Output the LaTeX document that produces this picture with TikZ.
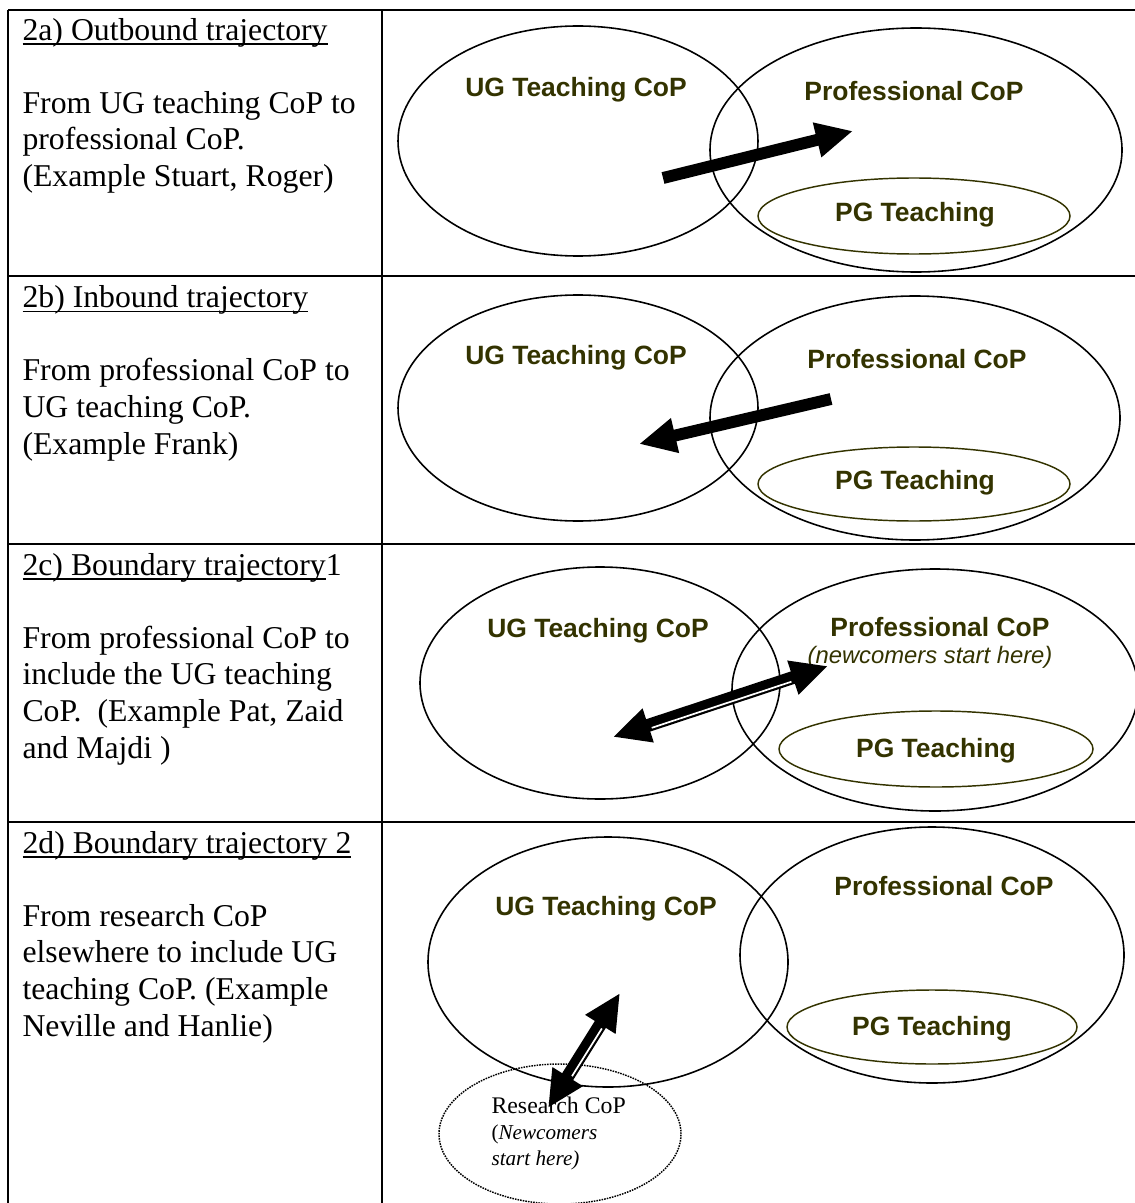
\documentclass[tikz,border=0pt]{standalone}
\usepackage{fontspec}
\setmainfont{Liberation Serif}
\newfontfamily\arialfont{Liberation Sans}
\usetikzlibrary{arrows.meta,shapes.geometric,calc}
\definecolor{copolive}{RGB}{51,51,0}
\newcommand{\unitpx}{0.378pt}
% Word-like underline that runs through the descenders
\newsavebox{\ulbox}
\newcommand{\wul}[1]{\sbox{\ulbox}{#1}\rlap{\vrule height -1.2pt depth 1.8pt width \wd\ulbox}\usebox{\ulbox}}

\begin{document}
\begin{tikzpicture}[
        x=0.378pt, y=-0.378pt,
        >={Triangle[length=14pt,width=12.5pt]},
        grid/.style={line width=0.75pt},
        cop/.style={ellipse,draw,line width=0.6pt,inner sep=0pt},
        pgring/.style={cop,draw=copolive,line width=0.55pt},
        resring/.style={cop,line width=0.55pt,dash pattern=on 0.6pt off 0.4pt},
        dims/.style args={#1x#2}{minimum width=#1*\unitpx,minimum height=#2*\unitpx},
        copname/.style={anchor=base,inner sep=0pt,text=copolive,
            font=\arialfont\bfseries\fontsize{10}{12}\selectfont},
        rowtext/.style={anchor=base west,align=left,inner sep=0pt,
            font=\fontsize{12}{13.83}\selectfont},
        fatarrow/.style={line width=4.5pt},
        twoway/.style={line width=4.9pt,<->},
        stripe/.style={draw=white,line width=0.65pt},
    ]
    \useasboundingbox (0,0) rectangle (1135,1203);

    % table rules
    \foreach \y in {10,276,544,822}
        \draw[grid] (8,\y) -- (1140,\y);
    \foreach \x in {8,382}
        \draw[grid] (\x,10) -- (\x,1210);

    % left column (anchored at the baseline of the last line)
    \node[rowtext] (txtA) at (22,186.5) {\wul{2a) Outbound trajectory}\\[\baselineskip]
        From UG teaching CoP to\\ professional CoP.\\ (Example Stuart, Roger)};
    \node[rowtext] (txtB) at (22,454) {\wul{2b) Inbound trajectory}\\[\baselineskip]
        From professional CoP to\\ UG teaching CoP.\\ (Example Frank)};
    \node[rowtext] (txtC) at (22,758) {\wul{2c) Boundary trajectory}1\\[\baselineskip]
        From professional CoP to\\ include the UG teaching\\ CoP.\ \ (Example Pat, Zaid\\ and Majdi )};
    \node[rowtext] (txtD) at (22,1036) {\wul{2d) Boundary trajectory 2}\\[\baselineskip]
        From research CoP\\ elsewhere to include UG\\ teaching CoP. (Example\\ Neville and Hanlie)};

    % 2a outbound
    \node[cop,dims=360x230] (ugA) at (578,141) {};
    \node[cop,dims=412x244] (proA) at (916,150) {};
    \node[pgring,dims=312x76] (pgA) at (914,216) {};
    \node[copname] (ugAname) at (576,97) {UG Teaching CoP};
    \node[copname] (proAname) at (914,101) {Professional CoP};
    \node[copname] (pgAname) at (915,222) {PG Teaching};
    \coordinate (outTail) at (663,178);
    \coordinate (outTip) at (853,131);
    \draw[fatarrow,->] (outTail) -- (outTip);

    % 2b inbound
    \node[cop,dims=360x226] (ugB) at (578,408) {};
    \node[cop,dims=410x244] (proB) at (915,418) {};
    \node[pgring,dims=312x74] (pgB) at (914,484) {};
    \node[copname] (ugBname) at (576,365) {UG Teaching CoP};
    \node[copname] (proBname) at (917,368) {Professional CoP};
    \node[copname] (pgBname) at (915,489) {PG Teaching};
    \coordinate (inTail) at (831,399);
    \coordinate (inTip) at (639,444);
    \draw[fatarrow,->] (inTail) -- (inTip);

    % 2c boundary 1
    \node[cop,dims=360x232] (ugC) at (600,683) {};
    \node[cop,dims=406x242] (proC) at (935,690) {};
    \node[pgring,dims=314x76] (pgC) at (936,749) {};
    \node[copname] (ugCname) at (598,637) {UG Teaching CoP};
    \node[copname] (proCname) at (940,636) {Professional CoP};
    \node[copname,font=\arialfont\itshape\fontsize{9}{11}\selectfont] (newC) at (930,663) {(newcomers start here)};
    \node[copname] (pgCname) at (936,757) {PG Teaching};
    \coordinate (bndLow) at (613,737);
    \coordinate (bndHigh) at (828,666);
    \draw[twoway] (bndLow) -- (bndHigh);
    \draw[stripe] ($($(bndLow)!15pt!(bndHigh)$)!1.3pt!-90:(bndHigh)$)
        -- ($($(bndHigh)!15pt!(bndLow)$)!1.3pt!90:(bndLow)$);

    % 2d boundary 2
    \node[cop,dims=360x250] (ugD) at (608,962) {};
    \node[cop,dims=384x256] (proD) at (932,955) {};
    \node[pgring,dims=290x74] (pgD) at (932,1027) {};
    \node[resring,dims=242x140] (resD) at (560,1134) {};
    \node[copname] (ugDname) at (606,915) {UG Teaching CoP};
    \node[copname] (proDname) at (944,895) {Professional CoP};
    \node[copname] (pgDname) at (932,1035) {PG Teaching};
    \node[rowtext,font=\fontsize{8}{9.8}\selectfont] (resDname) at (491,1165)
        {{\fontsize{9}{9.8}\selectfont Research CoP}\\ (\textit{Newcomers}\\ \textit{start here)}};
    \coordinate (resLow) at (548,1108);
    \coordinate (resHigh) at (620,993);
    \draw[twoway] (resLow) -- (resHigh);
    \draw[stripe] ($($(resLow)!15pt!(resHigh)$)!1.3pt!-90:(resHigh)$)
        -- ($($(resHigh)!15pt!(resLow)$)!1.3pt!90:(resLow)$);
\end{tikzpicture}
\end{document}
